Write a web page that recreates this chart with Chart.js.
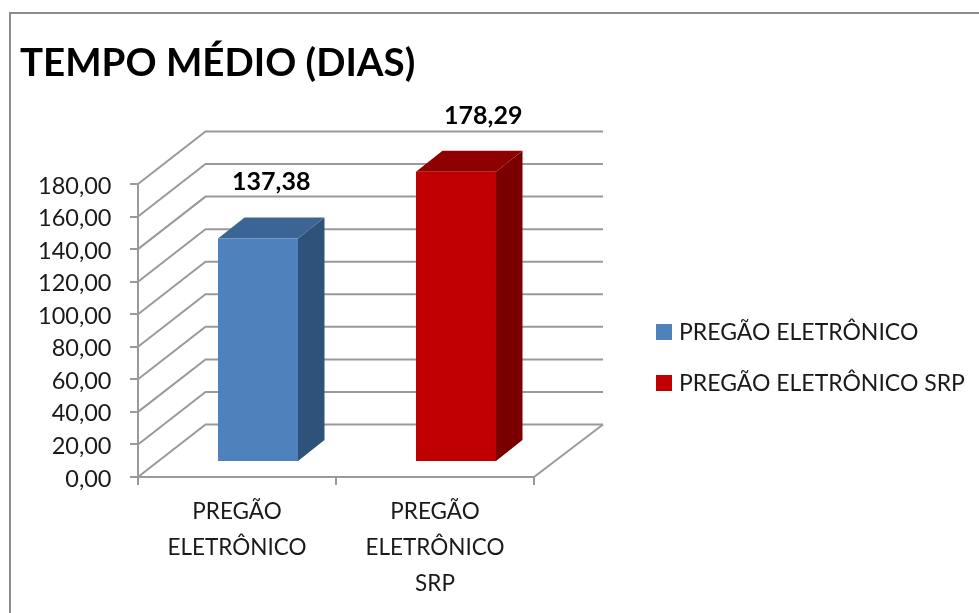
<!DOCTYPE html>
<html><head><meta charset="utf-8">
<style>html,body{margin:0;padding:0;background:#fff}canvas{display:block}</style>
<script src="https://cdn.jsdelivr.net/npm/chart.js@4/dist/chart.umd.js"></script>
</head><body><canvas id="c" width="979" height="613"></canvas>
<script>
const titleText = 'TEMPO MÉDIO (DIAS)';
const categories = [['PREGÃO','ELETRÔNICO'],['PREGÃO','ELETRÔNICO','SRP']];
const seriesNames = ['PREGÃO ELETRÔNICO','PREGÃO ELETRÔNICO SRP'];
const pregaoValues = [137.38, null];
const srpValues = [null, 178.29];
const seriesColors = ['#4f81bd','#c00000'];
const topColors = ['#3c6494','#8f0000'];
const sideColors = ['#2f527a','#7a0000'];
const labelNudgeX = [0, 14];

const FONT = 'Lato, Carlito, sans-serif';
const GRID = '#9a9a9a';
const WALL = {dx:67.5, dy:-52.5, rightDx:69};
const BAR_SHIFT = {dx:21, dy:-15};
const BAR_DEPTH = {dx:26.5, dy:-21};
const fmt = v => v.toFixed(2).replace('.',',');

const threeD = {
  id:'threeD',
  beforeDraw(chart){
    const c = chart.ctx;
    c.save(); c.strokeStyle='#8c8c8c'; c.lineWidth=2;
    c.beginPath(); c.moveTo(10,613); c.lineTo(10,13); c.lineTo(979,13); c.stroke();
    c.restore();
    chart.scales.y.getLabelItems().forEach(it=>{ it.options.translation[1]+=2; });
  },
  beforeDatasetsDraw(chart){
    const c = chart.ctx, y = chart.scales.y, a = chart.chartArea;
    c.save(); c.strokeStyle=GRID; c.lineWidth=2;
    y.ticks.forEach(t=>{
      const py = y.getPixelForValue(t.value);
      c.beginPath(); c.moveTo(a.left,py); c.lineTo(a.left+WALL.dx,py+WALL.dy); c.lineTo(a.right+WALL.rightDx,py+WALL.dy); c.stroke();
    });
    c.beginPath(); c.moveTo(a.right,a.bottom); c.lineTo(a.right+WALL.rightDx,a.bottom+WALL.dy); c.stroke();
    c.restore();
    chart.data.datasets.forEach((ds,i)=>{
      chart.getDatasetMeta(i).data.forEach((b,j)=>{
        if(ds.data[j]==null) return;
        const r=b.x+b.width/2+BAR_SHIFT.dx, l=b.x-b.width/2+BAR_SHIFT.dx, t=b.y+BAR_SHIFT.dy, bt=b.base+BAR_SHIFT.dy;
        c.fillStyle=sideColors[i]; c.beginPath(); c.moveTo(r,t); c.lineTo(r+BAR_DEPTH.dx,t+BAR_DEPTH.dy); c.lineTo(r+BAR_DEPTH.dx,bt+BAR_DEPTH.dy); c.lineTo(r,bt); c.closePath(); c.fill();
        c.fillStyle=topColors[i]; c.beginPath(); c.moveTo(l,t); c.lineTo(l+BAR_DEPTH.dx,t+BAR_DEPTH.dy); c.lineTo(r+BAR_DEPTH.dx,t+BAR_DEPTH.dy); c.lineTo(r,t); c.closePath(); c.fill();
      });
    });
    c.save(); c.translate(BAR_SHIFT.dx,BAR_SHIFT.dy);
  },
  afterDatasetsDraw(chart){
    const c = chart.ctx; c.restore();
    c.save();
    c.font='bold 25px '+FONT; c.fillStyle='#000'; c.textAlign='center'; c.textBaseline='middle';
    chart.data.datasets.forEach((ds,i)=>{
      chart.getDatasetMeta(i).data.forEach((b,j)=>{
        if(ds.data[j]==null) return;
        c.fillText(fmt(ds.data[j]), b.x+BAR_SHIFT.dx+BAR_DEPTH.dx/2+labelNudgeX[i], b.y+BAR_SHIFT.dy+BAR_DEPTH.dy-35);
      });
    });
    c.font='23px '+FONT; c.textAlign='left';
    const ly=[332,383];
    chart.data.datasets.forEach((ds,i)=>{
      c.fillStyle=seriesColors[i]; c.fillRect(656,ly[i]-8,16,16);
      c.fillStyle='#1a1a1a'; c.fillText(ds.label,679,ly[i]+1);
    });
    c.restore();
  }
};

new Chart(document.getElementById('c'),{
  type:'bar',
  data:{labels:categories,datasets:[
    {label:seriesNames[0],data:pregaoValues,backgroundColor:seriesColors[0]},
    {label:seriesNames[1],data:srpValues,backgroundColor:seriesColors[1]}
  ]},
  options:{
    responsive:false,animation:false,
    layout:{padding:{left:20,right:445,top:0,bottom:0}},
    datasets:{bar:{barPercentage:1,categoryPercentage:0.404,clip:false}},
    plugins:{
      legend:{display:false},tooltip:{enabled:false},
      title:{display:true,text:titleText,align:'start',color:'#000',
        font:{family:FONT,size:38.5,weight:'bold',lineHeight:1.2},padding:{top:40,bottom:97.8}}
    },
    scales:{
      x:{stacked:true,
        afterFit(s){s.height=136;},
        border:{color:GRID,width:2},
        grid:{drawOnChartArea:false,drawTicks:true,tickLength:8,color:GRID,lineWidth:2},
        ticks:{color:'#1a1a1a',maxRotation:0,font:{family:FONT,size:22.5,lineHeight:1.6},padding:9}
      },
      y:{stacked:true,min:0,max:180,
        afterFit(s){s.width=118;},
        border:{color:GRID,width:2},
        grid:{drawOnChartArea:false,drawTicks:true,tickLength:8,color:GRID,lineWidth:2},
        ticks:{stepSize:20,color:'#1a1a1a',padding:18.5,font:{family:FONT,size:23.5},callback:v=>fmt(v)}
      }
    }
  },
  plugins:[threeD]
});
</script></body></html>
